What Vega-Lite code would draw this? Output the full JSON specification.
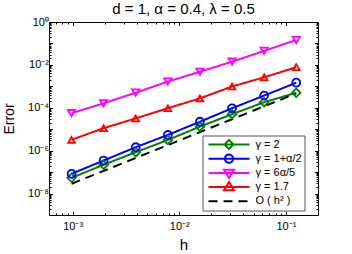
{
  "$schema": "https://vega.github.io/schema/vega-lite/v6.json",
  "width": 269,
  "height": 193,
  "autosize": {"type": "none"},
  "padding": {"left": 49, "top": 22, "right": 34, "bottom": 39},
  "background": "white",
  "config": {
    "view": {"stroke": "black", "strokeWidth": 1},
    "font": "Liberation Sans",
    "axis": {"grid": false, "domain": false, "tickColor": "black", "labelColor": "black", "titleColor": "black", "labelFont": "Liberation Sans", "titleFont": "Liberation Sans", "titleFontWeight": "normal", "labelOverlap": false, "labelFlush": false}
  },
  "title": {"text": "d = 1, α = 0.4, λ = 0.5", "fontSize": 15, "fontWeight": "normal", "font": "Liberation Sans", "color": "black", "offset": 0, "baseline": "bottom", "anchor": "middle", "frame": "group", "dy": 16},
  "data": {"values": [
    {"h": 0.0009765625, "err": 5.4e-8, "series": "γ = 2"},
    {"h": 0.001953125, "err": 2.2e-7, "series": "γ = 2"},
    {"h": 0.00390625, "err": 8.5e-7, "series": "γ = 2"},
    {"h": 0.0078125, "err": 3.16e-6, "series": "γ = 2"},
    {"h": 0.015625, "err": 1.32e-5, "series": "γ = 2"},
    {"h": 0.03125, "err": 5.0e-5, "series": "γ = 2"},
    {"h": 0.0625, "err": 1.82e-4, "series": "γ = 2"},
    {"h": 0.125, "err": 5.0e-4, "series": "γ = 2"},
    {"h": 0.0009765625, "err": 8.3e-8, "series": "γ = 1+α/2"},
    {"h": 0.001953125, "err": 3.47e-7, "series": "γ = 1+α/2"},
    {"h": 0.00390625, "err": 1.45e-6, "series": "γ = 1+α/2"},
    {"h": 0.0078125, "err": 5.4e-6, "series": "γ = 1+α/2"},
    {"h": 0.015625, "err": 2.24e-5, "series": "γ = 1+α/2"},
    {"h": 0.03125, "err": 9.5e-5, "series": "γ = 1+α/2"},
    {"h": 0.0625, "err": 3.7e-4, "series": "γ = 1+α/2"},
    {"h": 0.125, "err": 1.48e-3, "series": "γ = 1+α/2"},
    {"h": 0.0009765625, "err": 5.6e-5, "series": "γ = 6α/5"},
    {"h": 0.001953125, "err": 1.62e-4, "series": "γ = 6α/5"},
    {"h": 0.00390625, "err": 5.1e-4, "series": "γ = 6α/5"},
    {"h": 0.0078125, "err": 1.66e-3, "series": "γ = 6α/5"},
    {"h": 0.015625, "err": 4.8e-3, "series": "γ = 6α/5"},
    {"h": 0.03125, "err": 1.41e-2, "series": "γ = 6α/5"},
    {"h": 0.0625, "err": 4.5e-2, "series": "γ = 6α/5"},
    {"h": 0.125, "err": 0.145, "series": "γ = 6α/5"},
    {"h": 0.0009765625, "err": 3.2e-6, "series": "γ = 1.7"},
    {"h": 0.001953125, "err": 1.12e-5, "series": "γ = 1.7"},
    {"h": 0.00390625, "err": 3.2e-5, "series": "γ = 1.7"},
    {"h": 0.0078125, "err": 9.5e-5, "series": "γ = 1.7"},
    {"h": 0.015625, "err": 2.75e-4, "series": "γ = 1.7"},
    {"h": 0.03125, "err": 9.8e-4, "series": "γ = 1.7"},
    {"h": 0.0625, "err": 2.63e-3, "series": "γ = 1.7"},
    {"h": 0.125, "err": 7.8e-3, "series": "γ = 1.7"},
    {"h": 0.0009765625, "err": 2.86e-8, "series": "O ( h² )"},
    {"h": 0.001953125, "err": 1.14e-7, "series": "O ( h² )"},
    {"h": 0.00390625, "err": 4.58e-7, "series": "O ( h² )"},
    {"h": 0.0078125, "err": 1.83e-6, "series": "O ( h² )"},
    {"h": 0.015625, "err": 7.32e-6, "series": "O ( h² )"},
    {"h": 0.03125, "err": 2.93e-5, "series": "O ( h² )"},
    {"h": 0.0625, "err": 1.17e-4, "series": "O ( h² )"},
    {"h": 0.125, "err": 4.69e-4, "series": "O ( h² )"}
  ]},
  "resolve": {"axis": {"x": "independent", "y": "independent"}},
  "layer": [
    {
      "mark": {"type": "line", "strokeWidth": 2},
      "encoding": {
        "x": {"field": "h", "type": "quantitative", "scale": {"type": "log", "domain": [0.0006, 0.2], "nice": false},
          "axis": {"orient": "bottom", "title": "h", "titleFontSize": 15, "titlePadding": 4, "labelFontSize": 11, "labelPadding": 9,
            "values": [0.0006, 0.0007, 0.0008, 0.0009, 0.001, 0.002, 0.003, 0.004, 0.005, 0.006, 0.007, 0.008, 0.009, 0.01, 0.02, 0.03, 0.04, 0.05, 0.06, 0.07, 0.08, 0.09, 0.1],
            "labelExpr": "datum.value == 0.001 ? '10⁻³' : datum.value == 0.01 ? '10⁻²' : datum.value == 0.1 ? '10⁻¹' : ''",
            "tickSize": {"condition": {"test": "datum.value == 0.001 || datum.value == 0.01 || datum.value == 0.1", "value": -3.5}, "value": -2}}},
        "y": {"field": "err", "type": "quantitative", "scale": {"type": "log", "domain": [1e-9, 1], "nice": false},
          "axis": {"orient": "left", "title": "Error", "titleFontSize": 14, "titlePadding": 11, "labelFontSize": 11, "labelPadding": 4,
            "values": [1e-9, 2e-9, 3e-9, 4e-9, 5e-9, 6e-9, 7e-9, 8e-9, 9e-9, 1e-8, 2e-8, 3e-8, 4e-8, 5e-8, 6e-8, 7e-8, 8e-8, 9e-8, 1e-7, 2e-7, 3e-7, 4e-7, 5e-7, 6e-7, 7e-7, 8e-7, 9e-7, 1e-6, 2e-6, 3e-6, 4e-6, 5e-6, 6e-6, 7e-6, 8e-6, 9e-6, 1e-5, 2e-5, 3e-5, 4e-5, 5e-5, 6e-5, 7e-5, 8e-5, 9e-5, 1e-4, 2e-4, 3e-4, 4e-4, 5e-4, 6e-4, 7e-4, 8e-4, 9e-4, 1e-3, 2e-3, 3e-3, 4e-3, 5e-3, 6e-3, 7e-3, 8e-3, 9e-3, 1e-2, 2e-2, 3e-2, 4e-2, 5e-2, 6e-2, 7e-2, 8e-2, 9e-2, 0.1, 0.2, 0.3, 0.4, 0.5, 0.6, 0.7, 0.8, 0.9, 1],
            "labelExpr": "datum.value == 1 ? '10⁰' : datum.value == 0.01 ? '10⁻²' : datum.value == 0.0001 ? '10⁻⁴' : datum.value == 1e-6 ? '10⁻⁶' : datum.value == 1e-8 ? '10⁻⁸' : ''",
            "tickSize": {"condition": {"test": "abs(log(datum.value)/LN10 - round(log(datum.value)/LN10)) < 1e-6", "value": -3.5}, "value": -2}}},
        "color": {"field": "series", "type": "nominal",
          "scale": {"domain": ["γ = 2", "γ = 1+α/2", "γ = 6α/5", "γ = 1.7", "O ( h² )"], "range": ["#008000", "#0000ff", "#ff00ff", "#ff0000", "#000000"]},
          "legend": {"orient": "none", "legendX": 153.5, "legendY": 113.5, "title": null,
            "fillColor": "white", "strokeColor": "#555555", "padding": 2,
            "symbolType": {"expr": "datum.value === 'γ = 2' ? 'M-1,0H1M0,-0.22L0.22,0L0,0.22L-0.22,0Z' : datum.value === 'γ = 1+α/2' ? 'M-1,0H1M-0.2,0A0.2,0.2,0,1,0,0.2,0A0.2,0.2,0,1,0,-0.2,0' : datum.value === 'γ = 6α/5' ? 'M-1,0H1M-0.24,-0.15L0.24,-0.15L0,0.25Z' : datum.value === 'γ = 1.7' ? 'M-1,0H1M-0.24,0.15L0.24,0.15L0,-0.25Z' : 'M-1,0H1'"},
            "symbolSize": 1681, "symbolStrokeWidth": 2, "symbolFillColor": "transparent", "symbolOffset": 3,
            "clipHeight": 14, "rowPadding": 0.2,
            "labelFontSize": 11, "labelColor": "black", "labelFont": "Liberation Sans", "labelOffset": 5, "labelLimit": 0}},
        "strokeDash": {"field": "series", "type": "nominal",
          "scale": {"domain": ["γ = 2", "γ = 1+α/2", "γ = 6α/5", "γ = 1.7", "O ( h² )"], "range": [[1, 0], [1, 0], [1, 0], [1, 0], [9, 6]]}}
      }
    },
    {
      "transform": [{"filter": "datum.series != 'O ( h² )'"}],
      "mark": {"type": "point", "filled": false, "strokeWidth": 1.8, "opacity": 1},
      "encoding": {
        "x": {"field": "h", "type": "quantitative", "scale": {"type": "log", "domain": [0.0006, 0.2], "nice": false},
          "axis": {"orient": "top", "title": null, "labels": false,
            "values": [0.0006, 0.0007, 0.0008, 0.0009, 0.001, 0.002, 0.003, 0.004, 0.005, 0.006, 0.007, 0.008, 0.009, 0.01, 0.02, 0.03, 0.04, 0.05, 0.06, 0.07, 0.08, 0.09, 0.1],
            "tickSize": {"condition": {"test": "datum.value == 0.001 || datum.value == 0.01 || datum.value == 0.1", "value": -3.5}, "value": -2}}},
        "y": {"field": "err", "type": "quantitative", "scale": {"type": "log", "domain": [1e-9, 1], "nice": false},
          "axis": {"orient": "right", "title": null, "labels": false,
            "values": [1e-9, 2e-9, 3e-9, 4e-9, 5e-9, 6e-9, 7e-9, 8e-9, 9e-9, 1e-8, 2e-8, 3e-8, 4e-8, 5e-8, 6e-8, 7e-8, 8e-8, 9e-8, 1e-7, 2e-7, 3e-7, 4e-7, 5e-7, 6e-7, 7e-7, 8e-7, 9e-7, 1e-6, 2e-6, 3e-6, 4e-6, 5e-6, 6e-6, 7e-6, 8e-6, 9e-6, 1e-5, 2e-5, 3e-5, 4e-5, 5e-5, 6e-5, 7e-5, 8e-5, 9e-5, 1e-4, 2e-4, 3e-4, 4e-4, 5e-4, 6e-4, 7e-4, 8e-4, 9e-4, 1e-3, 2e-3, 3e-3, 4e-3, 5e-3, 6e-3, 7e-3, 8e-3, 9e-3, 1e-2, 2e-2, 3e-2, 4e-2, 5e-2, 6e-2, 7e-2, 8e-2, 9e-2, 0.1, 0.2, 0.3, 0.4, 0.5, 0.6, 0.7, 0.8, 0.9, 1],
            "tickSize": {"condition": {"test": "abs(log(datum.value)/LN10 - round(log(datum.value)/LN10)) < 1e-6", "value": -3.5}, "value": -2}}},
        "stroke": {"field": "series", "type": "nominal",
          "scale": {"domain": ["γ = 2", "γ = 1+α/2", "γ = 6α/5", "γ = 1.7"], "range": ["#008000", "#0000ff", "#ff00ff", "#ff0000"]}, "legend": null},
        "shape": {"field": "series", "type": "nominal",
          "scale": {"domain": ["γ = 2", "γ = 1+α/2", "γ = 6α/5", "γ = 1.7"], "range": ["diamond", "circle", "triangle-down", "triangle-up"]}, "legend": null},
        "size": {"field": "series", "type": "nominal",
          "scale": {"domain": ["γ = 2", "γ = 1+α/2", "γ = 6α/5", "γ = 1.7"], "range": [72, 45, 75, 75]}, "legend": null}
      }
    }
  ]
}
